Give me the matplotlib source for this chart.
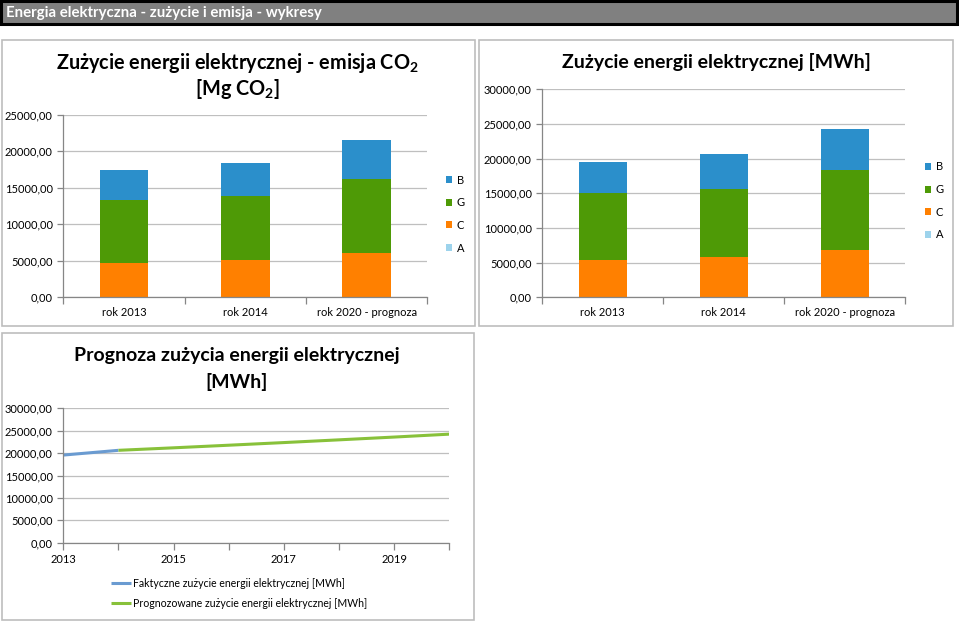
import matplotlib
matplotlib.use("Agg")
import matplotlib.pyplot as plt
from matplotlib.patches import Rectangle, Patch
from matplotlib.lines import Line2D
from matplotlib.ticker import FuncFormatter, MultipleLocator

FONT = "Lato"
plt.rcParams['font.family'] = [FONT, 'DejaVu Sans']
plt.rcParams['mathtext.fontset'] = 'custom'
plt.rcParams['mathtext.rm'] = FONT
plt.rcParams['mathtext.bf'] = FONT + ':bold'

# ---------------- data ----------------
categories = ["rok 2013", "rok 2014", "rok 2020 - prognoza"]
series_names = ["A", "C", "G", "B"]

co2_A = [0, 0, 0]
co2_C = [4710, 5130, 6040]
co2_G = [8610, 8700, 10170]
co2_B = [4080, 4530, 5310]

mwh_A = [0, 0, 0]
mwh_C = [5380, 5810, 6820]
mwh_G = [9620, 9770, 11500]
mwh_B = [4560, 5040, 5910]

actual_years = [2013, 2014]
actual_values = [19560, 20620]
forecast_years = [2014, 2015, 2016, 2017, 2018, 2019, 2020]
forecast_values = [20620, 21180, 21760, 22350, 22960, 23580, 24230]

colors = {"A": "#9DD3EC", "C": "#FF8000", "G": "#4E9A06", "B": "#2B8FCB"}

W, H = 959, 621
fig = plt.figure(figsize=(W / 100, H / 100), dpi=100)
fig.patch.set_facecolor("white")


def rect(x0, y0, x1, y1):
    return [x0 / W, 1 - y1 / H, (x1 - x0) / W, (y1 - y0) / H]


def fx(x):
    return x / W


def fy(y):
    return 1 - y / H


# header bar
fig.patches.append(Rectangle((fx(1), fy(24)), (957 - 1) / W, 23 / H, transform=fig.transFigure,
                             facecolor="#808080", edgecolor="black", linewidth=2.2, zorder=-5))
fig.text(fx(6), fy(13), "Energia elektryczna - zużycie i emisja - wykresy", color="white",
         fontsize=10.8, fontweight="bold", va="center", ha="left")

# panel frames
for (x0, y0, x1, y1) in [(2, 40, 475, 326), (479, 40, 953, 326), (2, 333, 474, 620)]:
    fig.patches.append(Rectangle((fx(x0), fy(y1)), (x1 - x0) / W, (y1 - y0) / H,
                                 transform=fig.transFigure, facecolor="white",
                                 edgecolor="#BDBDBD", linewidth=1.2, zorder=-5))

fmt = FuncFormatter(lambda v, p: f"{v:.2f}".replace(".", ","))
GRID = "#BFBFBF"
AXC = "#868686"
TICKFS = 8
TITLEFS = 14


def style_axes(ax):
    ax.set_facecolor("none")
    for s in ["top", "right"]:
        ax.spines[s].set_visible(False)
    for s in ["left", "bottom"]:
        ax.spines[s].set_color(AXC)
        ax.spines[s].set_linewidth(0.9)
    ax.yaxis.grid(True, color=GRID, linewidth=0.9)
    ax.set_axisbelow(True)
    ax.yaxis.set_major_formatter(fmt)
    ax.tick_params(axis="both", colors=AXC, labelcolor="black", labelsize=TICKFS, length=4, width=0.9)


def bar_chart(ax, A, C, G, B, ymax, step):
    xs = range(len(categories))
    bottom = [0] * len(categories)
    handles = []
    for name, vals in zip(series_names, [A, C, G, B]):
        ax.bar(xs, vals, width=0.4, bottom=bottom, color=colors[name], linewidth=0)
        bottom = [b + v for b, v in zip(bottom, vals)]
        handles.append(Patch(facecolor=colors[name], edgecolor="none", label=name))
    ax.set_xlim(-0.5, len(categories) - 0.5)
    ax.set_ylim(0, ymax)
    ax.yaxis.set_major_locator(MultipleLocator(step))
    ax.set_xticks([i for i in xs])
    ax.set_xticklabels(categories)
    ax.set_xticks([i - 0.5 for i in range(len(categories) + 1)], minor=True)
    style_axes(ax)
    ax.tick_params(axis="x", which="major", length=0, pad=7)
    ax.tick_params(axis="x", which="minor", length=5, colors=AXC, width=0.9)
    return handles[::-1]


# chart 1
ax1 = fig.add_axes(rect(63.3, 115, 427.3, 297))
h1 = bar_chart(ax1, co2_A, co2_C, co2_G, co2_B, 25000, 5000)
fig.text(fx(237.7), fy(63), "Zużycie energii elektrycznej - emisja CO$_\\mathbf{2}$",
         ha="center", va="center", fontsize=14.3, fontweight="bold")
fig.text(fx(237.7), fy(89), "[Mg CO$_\\mathbf{2}$]", ha="center", va="center", fontsize=14.3,
         fontweight="bold")
fig.legend(handles=h1, loc="center left", bbox_to_anchor=(fx(440), fy(214)), frameon=False,
           fontsize=8, handlelength=0.6, handleheight=0.6, handletextpad=0.4, labelspacing=1.05,
           borderpad=0)

# chart 2
ax2 = fig.add_axes(rect(542.3, 89.3, 905.3, 297.3))
h2 = bar_chart(ax2, mwh_A, mwh_C, mwh_G, mwh_B, 30000, 5000)
fig.text(fx(716), fy(62.3), "Zużycie energii elektrycznej [MWh]", ha="center", va="center",
         fontsize=TITLEFS, fontweight="bold")
fig.legend(handles=h2, loc="center left", bbox_to_anchor=(fx(919), fy(201)), frameon=False,
           fontsize=8, handlelength=0.6, handleheight=0.6, handletextpad=0.4, labelspacing=1.05,
           borderpad=0)

# chart 3
ax3 = fig.add_axes(rect(63.3, 408.3, 449.3, 542.7))
l1, = ax3.plot(actual_years, actual_values, color="#6A9BD1", linewidth=2.2, solid_capstyle="butt",
               label="Faktyczne zużycie energii elektrycznej [MWh]")
l2, = ax3.plot(forecast_years, forecast_values, color="#88C13A", linewidth=2.2,
               solid_capstyle="butt", label="Prognozowane zużycie energii elektrycznej [MWh]")
ax3.set_xlim(2013, 2020)
ax3.set_ylim(0, 30000)
ax3.yaxis.set_major_locator(MultipleLocator(5000))
ax3.xaxis.set_major_locator(MultipleLocator(1))
ax3.xaxis.set_major_formatter(FuncFormatter(lambda v, p: f"{int(round(v))}" if int(round(v)) % 2 == 1 else ""))
style_axes(ax3)
ax3.tick_params(axis="x", length=5, pad=3)
fig.text(fx(236.7), fy(356), "Prognoza zużycia energii elektrycznej", ha="center", va="center",
         fontsize=TITLEFS, fontweight="bold")
fig.text(fx(236.7), fy(381.7), "[MWh]", ha="center", va="center", fontsize=TITLEFS, fontweight="bold")
fig.legend(handles=[l1, l2], loc="center left", bbox_to_anchor=(fx(106), fy(593.5)), frameon=False,
           fontsize=7.6, handlelength=1.9, handletextpad=0.2, labelspacing=0.85, borderpad=0)

fig.savefig("out.png", dpi=100, facecolor="white")
